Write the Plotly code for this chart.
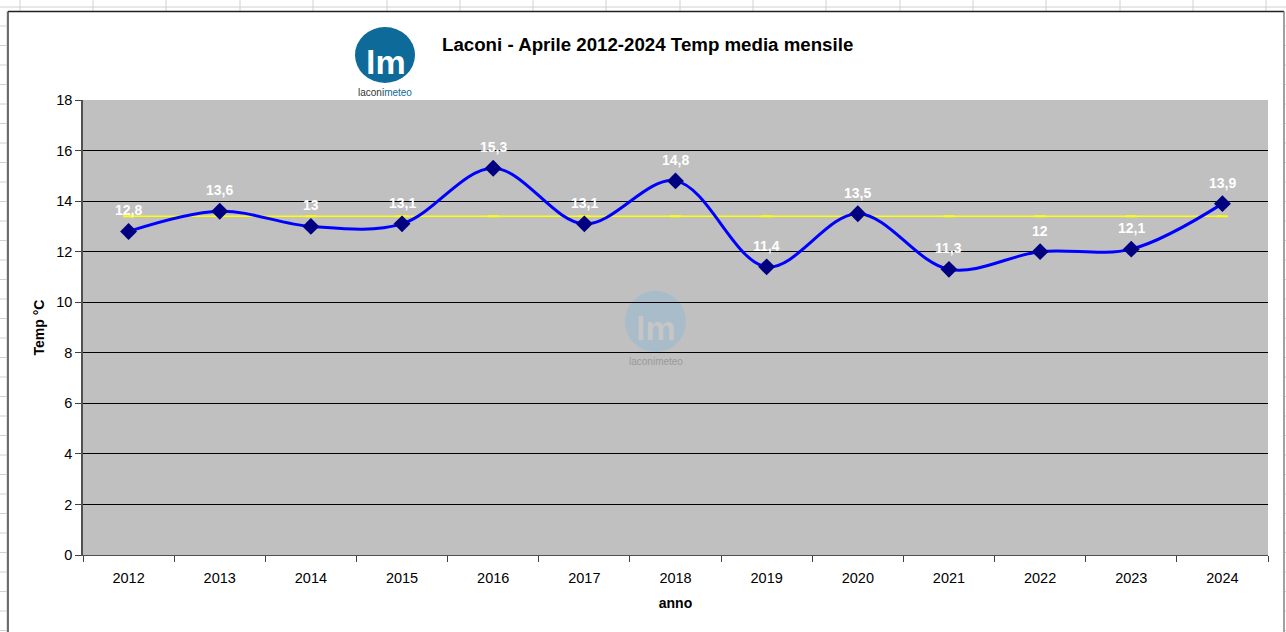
import plotly.graph_objects as go

years = ["2012", "2013", "2014", "2015", "2016", "2017", "2018",
         "2019", "2020", "2021", "2022", "2023", "2024"]
temps = [12.8, 13.6, 13.0, 13.1, 15.3, 13.1, 14.8, 11.4, 13.5, 11.3, 12.0, 12.1, 13.9]
labels = ["12,8", "13,6", "13", "13,1", "15,3", "13,1", "14,8",
          "11,4", "13,5", "11,3", "12", "12,1", "13,9"]
average = [13.4] * 13

W, H = 1286, 632
L, R, T, B = 83, 1268, 100, 555


def px(x):
    return (x - L) / (R - L)


def py(y):
    return (B - y) / (B - T)


FONT = "Liberation Sans, Arial, sans-serif"

fig = go.Figure()
fig.add_trace(go.Scatter(
    x=years, y=average, mode="lines+markers",
    line=dict(color="#FFFF00", width=1.5),
    marker=dict(symbol="line-ew", size=8, line=dict(color="#FFFF00", width=2)),
    hoverinfo="skip", showlegend=False))
fig.add_trace(go.Scatter(
    x=years, y=temps, mode="lines+markers",
    line=dict(color="#0000FF", width=3, shape="spline", smoothing=1),
    marker=dict(symbol="diamond", size=13, color="#000080"),
    showlegend=False))

shapes = []
# spreadsheet grid in the background margins
for x in [20, 93, 166, 240, 313, 387, 460, 533, 606, 680, 753, 826, 900, 973, 1046, 1120, 1193, 1266]:
    shapes.append(dict(type="line", xref="paper", yref="paper",
                       x0=px(x), x1=px(x), y0=py(0), y1=py(11),
                       line=dict(color="#D0D0D0", width=1), layer="below"))
shapes.append(dict(type="line", xref="paper", yref="paper",
                   x0=px(0), x1=px(W), y0=py(7), y1=py(7),
                   line=dict(color="#D0D0D0", width=1), layer="below"))
shapes.append(dict(type="line", xref="paper", yref="paper",
                   x0=px(7), x1=px(7), y0=py(11), y1=py(H),
                   line=dict(color="#C8C8C8", width=1), layer="below"))
y = 26
while y < H:
    shapes.append(dict(type="line", xref="paper", yref="paper",
                       x0=px(0), x1=px(7), y0=py(y), y1=py(y),
                       line=dict(color="#D0D0D0", width=1), layer="below"))
    shapes.append(dict(type="line", xref="paper", yref="paper",
                       x0=px(1285), x1=px(W), y0=py(y), y1=py(y),
                       line=dict(color="#D0D0D0", width=1), layer="below"))
    y += 19.5
# chart border
shapes.append(dict(type="line", xref="paper", yref="paper",
                   x0=px(8), x1=px(1284), y0=py(11.5), y1=py(11.5),
                   line=dict(color="#202020", width=1.5)))
shapes.append(dict(type="line", xref="paper", yref="paper",
                   x0=px(8), x1=px(8), y0=py(11.5), y1=py(H),
                   line=dict(color="#404040", width=1.5)))
shapes.append(dict(type="line", xref="paper", yref="paper",
                   x0=px(1284), x1=px(1284), y0=py(11.5), y1=py(H),
                   line=dict(color="#808080", width=1.5)))
# logo circle
shapes.append(dict(type="circle", xref="paper", yref="paper",
                   x0=px(355), x1=px(415), y0=py(83), y1=py(27),
                   fillcolor="#0E6A98", line=dict(width=0)))
# watermark circle
shapes.append(dict(type="circle", xref="paper", yref="paper",
                   x0=px(625), x1=px(686), y0=py(352), y1=py(291),
                   fillcolor="#A8BCC9", line=dict(width=0), layer="below"))

annotations = [
    dict(text="<b>Laconi - Aprile 2012-2024 Temp media mensile</b>",
         xref="paper", yref="paper", x=px(440), y=py(45), xanchor="left", yanchor="middle",
         showarrow=False, font=dict(family=FONT, size=18.7, color="black")),
    dict(text="<b>lm</b>", xref="paper", yref="paper", x=px(386), y=py(62),
         xanchor="center", yanchor="middle", showarrow=False,
         font=dict(family=FONT, size=34, color="white")),
    dict(text="<span style='color:#333333'>laconi</span><span style='color:#0E6A98'>meteo</span>",
         xref="paper", yref="paper", x=px(385), y=py(92), xanchor="center", yanchor="middle",
         showarrow=False, font=dict(family=FONT, size=10)),
    dict(text="<b>lm</b>", xref="paper", yref="paper", x=px(656), y=py(328),
         xanchor="center", yanchor="middle", showarrow=False,
         font=dict(family=FONT, size=34, color="#C6C6C6")),
    dict(text="laconimeteo", xref="paper", yref="paper", x=px(656), y=py(361),
         xanchor="center", yanchor="middle", showarrow=False,
         font=dict(family=FONT, size=10, color="#9A9A9A")),
]
for i, (t, lab) in enumerate(zip(temps, labels)):
    annotations.append(dict(x=i, y=t, xref="x", yref="y", text="<b>" + lab + "</b>",
                            showarrow=False, yshift=21, yanchor="middle",
                            font=dict(family=FONT, size=14, color="white")))

fig.update_layout(
    width=W, height=H,
    margin=dict(l=L, r=W - R, t=T, b=H - B),
    paper_bgcolor="white", plot_bgcolor="#C0C0C0",
    shapes=shapes, annotations=annotations,
    font=dict(family=FONT, size=14, color="black"),
    xaxis=dict(type="category", range=[-0.5, 12.5], tickson="boundaries", ticks="outside",
               ticklen=6, tickcolor="#404040", showline=True, linecolor="#505050", linewidth=1,
               showgrid=False, tickfont=dict(family=FONT, size=14.5, color="black"),
               ticklabelstandoff=10,
               title=dict(text="<b>anno</b>", font=dict(family=FONT, size=14), standoff=12),
               mirror=False, fixedrange=True),
    yaxis=dict(range=[0, 18], dtick=2, ticks="outside", ticklen=6, tickcolor="#404040",
               showline=True, linecolor="#505050", linewidth=1.5,
               showgrid=True, gridcolor="black", gridwidth=1, zeroline=False,
               tickfont=dict(family=FONT, size=14.5, color="black"),
               title=dict(text="<b>Temp °C</b>", font=dict(family=FONT, size=14), standoff=8),
               fixedrange=True),
)

fig.write_html("out.html", config={"displayModeBar": False},
               post_script="document.body.style.margin='0';")
